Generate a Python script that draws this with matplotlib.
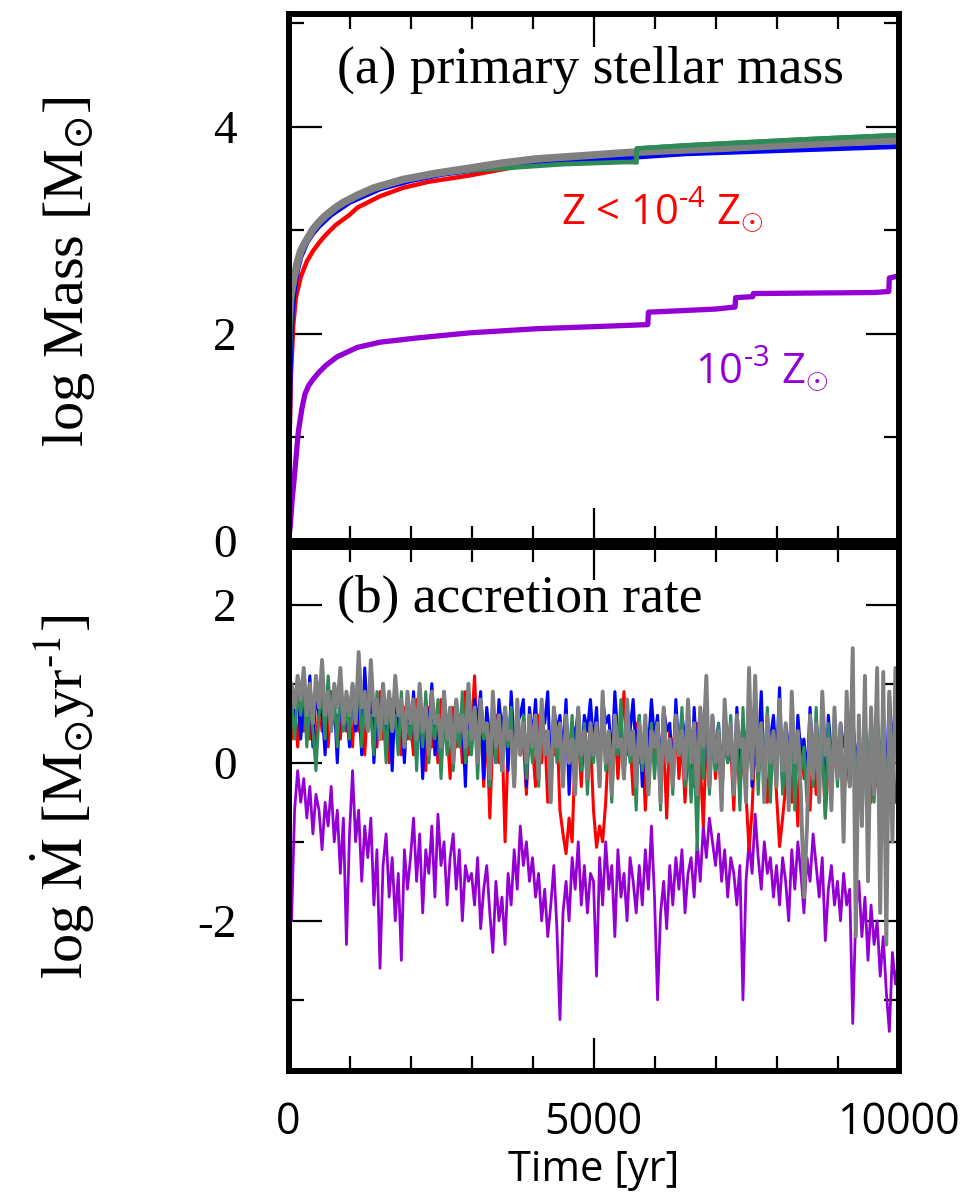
import numpy as np
import matplotlib
matplotlib.use('Agg')
import matplotlib.pyplot as plt
from matplotlib.ticker import MultipleLocator

plt.rcParams['mathtext.fontset'] = 'custom'
plt.rcParams['mathtext.rm'] = 'Open Sans'
plt.rcParams['mathtext.it'] = 'Open Sans:italic'
plt.rcParams['mathtext.bf'] = 'Open Sans:bold'

# ---------------- data: (a) primary stellar mass (log Msun) ----------------
t_gray_m = [10, 15, 30, 60, 100, 150, 200, 260, 330, 400, 500, 600, 770, 900, 1130, 1400,
            1870, 2400, 2960, 3500, 4060, 4800, 5520, 6200, 7000, 7700, 8450, 9200, 10000]
m_gray = [2.2, 2.25, 2.35, 2.45, 2.57, 2.7, 2.8, 2.87, 2.94, 3.01, 3.08, 3.14, 3.22, 3.27, 3.34, 3.41,
          3.49, 3.55, 3.60, 3.65, 3.69, 3.72, 3.75, 3.77, 3.79, 3.81, 3.83, 3.85, 3.87]

t_blue_m = [0, 10, 30, 60, 100, 150, 200, 300, 400, 500, 700, 1000, 1500, 2000, 2500, 3000,
            4000, 5000, 5750, 6500, 7500, 8500, 10000]
m_blue = [0.0, 0.8, 1.7, 2.2, 2.45, 2.62, 2.74, 2.88, 2.97, 3.04, 3.15, 3.27, 3.40, 3.48, 3.54, 3.58,
          3.64, 3.68, 3.71, 3.74, 3.76, 3.78, 3.81]

t_red_m = [0, 15, 40, 80, 120, 200, 300, 400, 500, 600, 770, 1000, 1130, 1500, 1870, 2300,
           2960, 3500, 4060, 4800, 5500, 6500, 8000, 10000]
m_red = [0.0, 0.9, 1.6, 2.1, 2.35, 2.55, 2.7, 2.8, 2.88, 2.95, 3.05, 3.15, 3.22, 3.33, 3.41, 3.47,
         3.53, 3.59, 3.65, 3.69, 3.73, 3.78, 3.83, 3.88]

t_green_m = [0, 10, 30, 60, 100, 200, 300, 400, 500, 700, 1000, 1500, 2000, 2500, 3000, 3500,
             4000, 4500, 5000, 5500, 5700, 5710, 6500, 7500, 8500, 10000]
m_green = [0.0, 1.5, 2.05, 2.35, 2.55, 2.8, 2.93, 3.01, 3.07, 3.18, 3.3, 3.42, 3.5, 3.55, 3.58, 3.6,
           3.62, 3.64, 3.65, 3.66, 3.66, 3.79, 3.82, 3.85, 3.88, 3.92]
GREEN_TOP_FROM = 20  # index in t_green_m from which green is drawn above gray

t_purple_m = [0, 30, 60, 90, 130, 160, 220, 270, 330, 400, 500, 620, 800, 1130, 1500, 2090,
              2960, 4060, 5000, 5890, 5900, 7000, 7320, 7330, 7610, 7620, 9600, 9840, 9850, 10000]
m_purple = [0.0, 0.15, 0.4, 0.58, 0.85, 1.05, 1.28, 1.42, 1.5, 1.56, 1.63, 1.70, 1.78, 1.87, 1.92, 1.96,
            2.01, 2.05, 2.07, 2.09, 2.21, 2.24, 2.26, 2.35, 2.36, 2.39, 2.40, 2.41, 2.54, 2.56]

# ---------------- data: (b) accretion rate (log Msun/yr), sampled every 50 yr ----------------
t_acc = np.arange(0, 10001, 50)

rate_gray = [
    0.6, 1.0, 0.7, 1.1, 0.8, 1.2, 0.6, 1.0, 0.5, 1.1, 0.7, 1.3, 0.6, 0.9, 0.4, 1.0, 0.7, 1.2, 0.5, 0.9,
    0.6, 1.0, 0.5, 1.4, 0.7, 0.9, 0.4, 1.3, 0.6, 0.8, 0.3, 1.0, 0.5, 0.9, 0.4, 1.1, 0.6, 0.8, 0.2, 0.9,
    0.5, 0.8, 0.3, 1.0, 0.4, 0.7, 0.1, 0.9, 0.5, 0.6, 0.2, 0.9, 0.3, 0.7, 0.0, 0.8, 0.4, 0.6, 0.2, 1.0,
    0.3, 0.7, 0.0, 0.8, 0.4, 0.5, -0.2, 0.9, 0.2, 0.6, -0.1, 0.7, 0.3, 0.4, -0.3, 0.8, 0.1, 0.5, 0.0, 0.6,
    0.2, 0.6, -0.2, 0.8, 0.1, 0.4, -0.5, 0.7, 0.2, 0.5, -0.3, 0.6, 0.0, 0.3, -0.4, 0.7, 0.1, 0.4, -0.2, 0.5,
    0.1, 0.5, -0.3, 0.9, 0.0, 0.4, -0.4, 0.6, 0.2, 0.3, -0.2, 0.8, 0.1, 0.4, -0.3, 0.5, 0.0, 0.6, -0.4, 0.4,
    0.2, 0.5, -0.5, 0.7, 0.0, 0.3, -0.3, 0.6, 0.1, 0.4, -0.2, 0.8, 0.0, 0.5, -0.4, 0.7, 0.2, 1.1, -0.3, 0.6,
    0.0, 0.4, -0.6, 0.8, 0.1, 0.5, -0.4, 0.6, 0.2, 0.3, -0.5, 1.2, -0.2, 1.1, -0.1, 0.5, -0.5, 0.6, 0.0, 0.4,
    -0.3, 0.8, -0.1, 0.5, -0.6, 0.9, 0.0, 0.4, -0.4, -1.7, -0.8, 0.6, -0.2, 0.5, -0.5, 0.9, 0.1, 0.3, -0.6, 0.7,
    -0.2, 0.5, -1.0, 0.9, -0.3, 1.45, -2.2, 0.6, -0.8, 1.1, -1.5, 0.7, -0.4, 1.2, -1.9, 1.15, -2.3, 0.9, -1.0, 1.2,
    0.2]

rate_green = [
    0.5, 0.8, 0.3, 0.9, 0.6, 1.0, 0.2, 0.8, 0.4, -0.1, 0.6, 0.9, 0.3, 1.1, 0.5, 0.8, 0.2, 1.0, 0.4, 0.7,
    0.3, 0.9, 0.5, 1.1, 0.2, 0.8, 0.4, 0.6, 0.1, 0.9, 0.3, 0.7, 0.0, 0.8, 0.4, 0.6, 0.1, 0.9, 0.2, 0.5,
    0.3, 0.8, -0.1, 0.7, 0.2, 0.9, 0.0, 0.5, 0.3, 0.8, -0.2, 0.6, 0.1, 0.7, -0.1, 0.5, 0.2, 0.9, 0.0, 0.4,
    0.1, 0.7, -0.2, 0.6, 0.3, 0.5, -0.3, 0.8, 0.0, 0.6, -0.1, 0.4, 0.2, 0.7, -0.3, 0.5, 0.1, 0.6, -0.2, 0.4,
    0.0, 0.6, -0.3, 0.5, 0.2, 0.4, -0.4, 0.7, 0.0, 0.3, -0.2, 0.5, 0.1, 0.6, -0.3, 0.4, -0.1, 0.5, -0.4, 0.3,
    0.0, 0.4, -0.3, 0.7, -0.1, 0.3, -0.5, 0.5, 0.1, 0.8, -0.2, 0.4, 0.0, 0.3, -0.6, 0.6, -0.1, 0.2, -0.4, 0.5,
    -0.2, 0.4, -0.6, 0.6, 0.0, 0.3, -0.4, 0.5, 0.1, 0.7, -0.3, 0.4, -0.5, 0.2, -1.1, 0.5, -0.2, 0.9, -0.4, 0.3,
    -0.1, 0.5, -0.5, 0.3, 0.0, 0.6, -0.3, 0.4, -0.6, 0.7, -0.2, 0.3, 0.1, 0.8, -0.4, 0.5, -0.2, 0.7, -0.5, 0.4,
    -0.2, 0.6, -0.4, 0.3, 0.0, 0.5, -0.6, 0.4, -0.1, 0.2, -0.5, 0.6, -0.3, 0.7, -0.2, 0.3, -0.7, 0.5, -0.1, 0.4,
    -0.3, 0.5, -0.5, 0.2, -0.1, 0.7, -0.4, 0.3, -0.8, 0.5, -0.2, 0.6, -0.5, 0.2, -0.3, 0.8, -0.6, 0.4, -0.2, 0.7,
    -0.4]

rate_blue = [
    0.4, 0.9, 0.6, 1.0, 0.3, 0.8, 0.5, 1.1, 0.2, 0.9, 0.6, 0.7, 0.1, 1.0, 0.4, 0.8, 0.0, 0.9, 0.5, 0.7,
    0.2, 1.0, 0.4, 0.8, 0.1, 1.2, 0.5, 0.9, 0.0, 0.7, 0.3, 1.0, 0.2, 0.8, -0.1, 0.9, 0.4, 0.6, 0.0, 0.8,
    0.3, 0.9, 0.1, 0.7, -0.2, 0.8, 0.4, 1.0, 0.1, 0.6, -0.1, 0.9, 0.3, 0.7, 0.0, 0.8, 0.4, 0.6, -0.3, 0.9,
    0.2, 0.8, 0.5, 0.9, -0.2, 0.7, 0.3, 0.6, 0.0, 0.8, 0.4, 0.7, -0.1, 0.9, 0.2, 0.5, 0.6, 0.8, -0.3, 0.7,
    0.3, 0.8, 0.0, 0.6, 0.5, 0.9, -0.2, 0.7, 0.4, 0.6, 0.1, 0.8, -0.4, 0.5, 0.3, 0.7, -0.1, 0.6, 0.4, 0.8,
    0.2, 0.7, -0.1, 0.8, 0.5, 0.6, 0.0, 0.9, 0.3, 0.5, -0.2, 0.7, 0.4, 0.8, 0.1, 0.6, -0.3, 0.5, 0.2, 0.8,
    0.3, 0.6, -0.1, 0.7, 0.4, 0.5, -0.2, 0.8, 0.1, 0.6, 0.3, 0.5, -0.4, 0.7, 0.0, 0.6, 0.2, 0.5, -0.3, 0.6,
    0.1, 0.5, -0.2, 0.6, 0.3, 0.4, -0.4, 0.7, 0.0, 0.5, 0.2, 0.6, -0.3, 0.4, 0.1, 0.9, -0.2, 0.5, 0.3, 0.6,
    0.0, 0.95, -0.3, 0.5, 0.2, 0.4, -0.4, 0.6, 0.1, 0.3, -0.2, 0.7, 0.0, 0.5, 0.2, 0.4, -0.5, 0.6, 0.1, 0.3,
    -0.1, 0.5, 0.2, 0.4, -0.3, 0.6, 0.0, 0.3, -0.4, 0.5, 0.1, 0.2, -0.2, 0.6, 0.0, 0.4, -0.3, 0.9, 0.1, 0.8,
    0.0]

rate_red = [
    0.5, 0.3, 0.8, 0.2, 0.7, 0.4, 0.9, 0.3, 0.6, 0.1, 0.8, 0.4, 0.7, 0.2, 0.9, 0.5, 0.6, 0.3, 0.8, 0.4,
    0.6, 0.2, 0.9, 0.4, 0.7, 0.1, 0.8, 0.5, 0.6, 0.2, 0.9, 0.3, 0.7, 0.0, 0.8, 0.4, 0.5, 0.1, 0.7, 0.3,
    0.5, 0.1, 0.8, 0.3, 0.6, -0.1, 0.7, 0.2, 0.5, 0.0, 0.8, 0.3, 0.4, -0.2, 0.7, 0.2, 0.6, 0.0, 0.9, 0.1,
    0.4, 1.1, 0.2, 0.6, -0.3, 0.5, -0.7, 0.3, 0.6, 0.0, 0.4, -1.0, 0.2, 0.5, -0.2, 0.6, 0.1, 0.3, -0.4, 0.5,
    0.2, -0.3, 0.6, 0.0, 0.4, -0.5, 0.3, 0.1, 0.5, -0.6, -0.9, -1.15, -0.7, -1.0, 0.2, 0.4, -0.3, 0.5, 0.1, 0.3,
    -0.6, -1.07, -0.8, -1.0, -0.5, 0.3, 0.0, 0.5, -0.2, 0.4, 0.9, 0.1, 0.3, -0.4, 0.5, 0.0, 0.3, -0.6, 0.2, 0.4,
    0.0, 0.5, -0.3, 0.3, -0.7, 0.4, 0.1, 0.6, -0.2, 0.3, -0.5, 0.2, 0.4, -0.3, 0.5, 0.0, -0.8, 0.3, 0.1, 0.5,
    -0.2, 0.3, -0.5, 0.4, 0.0, 0.2, -0.6, 0.5, -0.3, 0.1, -0.4, -1.1, -0.6, 0.3, -0.2, 0.4, 0.0, -0.5, 0.2, 0.3,
    -0.4, -1.06, -0.7, -0.3, 0.2, -0.5, 0.1, -0.8, 0.3, -0.2, 0.0, -0.6, 0.2, -0.4, 0.1, 0.3, -0.7, 0.0, -0.3, 0.2,
    -0.2, 0.3, -0.5, 0.1, -0.3, 0.4, -0.6, 0.0, -0.4, 0.2, -0.1, -0.5, 0.3, -0.3, 0.1, -0.6, 0.0, -0.4, 0.2, -0.5,
    -0.3]

rate_purple = [
    -0.5, -2.0, -0.6, -0.1, -0.5, -0.2, -0.7, -0.3, -0.9, -0.4, -0.6, -1.1, -0.5, -0.8, -0.3, -1.0, -0.6, -1.4, -0.7, -2.3,
    -0.9, -0.1, -1.0, -0.6, -1.5, -0.8, -1.2, -0.7, -1.8, -1.1, -2.6, -1.3, -0.9, -1.7, -1.2, -2.0, -1.4, -2.5, -1.1, -1.6,
    -1.2, -0.7, -1.5, -0.9, -1.9, -1.1, -1.4, -0.8, -1.7, -0.65, -1.3, -1.0, -1.8, -1.2, -0.9, -1.6, -1.1, -2.0, -1.3, -1.5,
    -1.4, -1.8, -1.2, -2.1, -1.6, -1.3, -1.9, -2.4, -1.5, -2.0, -1.7, -2.3, -1.4, -1.8, -1.1, -1.6, -0.8, -1.3, -1.0, -1.5,
    -1.2, -1.7, -1.4, -2.0, -1.6, -2.2, -1.8, -1.3, -2.1, -3.25, -1.9, -1.5, -2.0, -1.2, -1.6, -1.0, -1.8, -1.3, -1.9, -1.4,
    -1.5, -2.7, -1.2, -1.8, -1.0, -1.6, -1.3, -2.2, -1.1, -1.7, -1.4, -2.0, -1.2, -1.5, -1.9, -1.3, -1.8, -1.1, -1.6, -0.8,
    -1.7, -3.0, -1.9, -1.5, -2.1, -1.3, -1.8, -1.2, -1.6, -1.1, -1.9, -1.4, -1.2, -1.7, -1.0, -1.5, -0.8, -1.2, -0.7, -1.0,
    -1.3, -0.9, -1.5, -1.1, -1.7, -1.2, -1.4, -1.8, -1.3, -3.0, -1.5, -1.0, -1.4, -0.65, -1.2, -1.6, -1.0, -1.4, -1.2, -1.7,
    -1.3, -1.8, -1.2, -1.5, -2.0, -1.1, -1.6, -1.0, -1.4, -1.9, -1.2, -1.5, -0.9, -1.3, -1.7, -1.2, -2.25, -1.6, -1.3, -1.8,
    -1.5, -2.0, -1.4, -1.8, -1.6, -3.3, -1.9, -1.5, -2.2, -1.7, -2.5, -1.8, -2.3, -2.0, -2.7, -2.2, -2.9, -3.4, -2.4, -2.8,
    -2.5]

# ---------------- axis / label definitions ----------------
xticks = [0, 5000, 10000]
xtick_labels = ['0', '5000', '10000']
yticks_mass = [0, 2, 4]
ytick_labels_mass = ['0', '2', '4']
yticks_rate = [-2, 0, 2]
ytick_labels_rate = ['-2', '0', '2']

C_RED, C_BLUE, C_GREEN, C_GRAY, C_PURPLE = '#ff0000', '#0000ff', '#2e8b57', '#808080', '#9400d3'

fig = plt.figure(figsize=(9.69, 12.02), dpi=100)
L, W = 288.5 / 969, 610 / 969
ax1 = fig.add_axes([L, 1 - 541 / 1202, W, 527 / 1202])
ax2 = fig.add_axes([L, 1 - 1071 / 1202, W, 524 / 1202], sharex=ax1)

# top panel lines
ax1.plot(t_purple_m, m_purple, color=C_PURPLE, lw=3.8)
ax1.plot(t_red_m, m_red, color=C_RED, lw=3.2)
ax1.plot(t_blue_m, m_blue, color=C_BLUE, lw=3.6)
ax1.plot(t_green_m, m_green, color=C_GREEN, lw=3.4)
ax1.plot(t_gray_m, m_gray, color=C_GRAY, lw=5.5)
ax1.plot(t_green_m[GREEN_TOP_FROM:], m_green[GREEN_TOP_FROM:], color=C_GREEN, lw=3.4)

# bottom panel lines
ax2.plot(t_acc, rate_purple, color=C_PURPLE, lw=2.0)
ax2.plot(t_acc, rate_red, color=C_RED, lw=2.2)
ax2.plot(t_acc, rate_blue, color=C_BLUE, lw=2.2)
ax2.plot(t_acc, rate_green, color=C_GREEN, lw=2.2)
ax2.plot(t_acc, rate_gray, color=C_GRAY, lw=2.8)

serif = 'Liberation Serif'
sans = 'Open Sans'

for ax in (ax1, ax2):
    ax.set_xlim(0, 10000)
    for s in ax.spines.values():
        s.set_linewidth(4.3)
    ax.tick_params(which='both', direction='in', top=True, right=True, width=1.6)
    ax.tick_params(which='major', length=24, pad=37)
    ax.tick_params(which='minor', length=11)
    ax.xaxis.set_minor_locator(MultipleLocator(1000))
    ax.yaxis.set_minor_locator(MultipleLocator(1))

ax1.set_ylim(0, 5.09)
ax2.set_ylim(-3.9, 2.73)

ax1.set_yticks(yticks_mass)
ax1.set_yticklabels(ytick_labels_mass, fontfamily=serif, fontsize=34)
ax2.set_yticks(yticks_rate)
ax2.set_yticklabels(ytick_labels_rate, fontfamily=serif, fontsize=34)

ax2.set_xticks(xticks)
ax2.set_xticklabels(xtick_labels, fontfamily=sans, fontsize=31)
ax2.tick_params(axis='x', which='major', pad=21)
ax1.tick_params(axis='x', labelbottom=False)

ax2.set_xlabel('Time [yr]', fontfamily=sans, fontsize=30, labelpad=3)

ax1.set_ylabel(r'log Mass [M$_{\odot}$]', fontfamily=serif, fontsize=42, math_fontfamily='stix')
ax1.yaxis.set_label_coords(-0.314, 0.51)
ax2.set_ylabel(r'log $\dot{\mathrm{M}}$ [M$_{\odot}$yr$^{\text{-1}}$]', fontfamily=serif, fontsize=42,
               math_fontfamily='stix')
ax2.yaxis.set_label_coords(-0.314, 0.523)

ax1.text(0.0795, 0.869, '(a) primary stellar mass', transform=ax1.transAxes,
         fontfamily=serif, fontsize=38.5, ha='left', va='baseline')
ax2.text(0.0795, 0.876, '(b) accretion rate', transform=ax2.transAxes,
         fontfamily=serif, fontsize=38.5, ha='left', va='baseline')

ax1.text(4470, 3.07, r'Z < 10$^{\text{-4}}$ Z$_{\odot}$', color=C_RED, fontfamily=sans, fontsize=30,
         math_fontfamily='custom', ha='left', va='baseline')
ax1.text(6664, 1.53, r'10$^{\text{-3}}$ Z$_{\odot}$', color=C_PURPLE, fontfamily=sans, fontsize=30,
         math_fontfamily='custom', ha='left', va='baseline')

fig.savefig('out.png', dpi=100)
